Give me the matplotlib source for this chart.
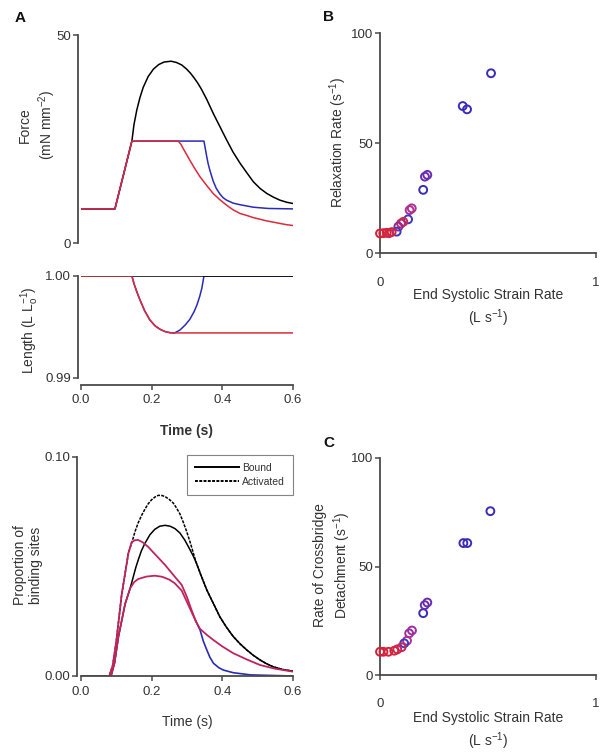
"""
Force, length and binding-site traces (A) with relaxation / detachment
rates against end systolic strain rate (B, C).
"""

import matplotlib
matplotlib.use("Agg")
import matplotlib.pyplot as plt
from matplotlib.lines import Line2D


# -------------------------------------------------
# DATA
# -------------------------------------------------
# A, top: force (mN mm^-2)
force_black_t = [0.0, 0.096, 0.120, 0.144, 0.150, 0.158, 0.167, 0.176, 0.190, 0.205,
                 0.220, 0.235, 0.255, 0.270, 0.285, 0.299, 0.310, 0.320, 0.330, 0.340,
                 0.356, 0.374, 0.393, 0.412, 0.430, 0.450, 0.470, 0.488, 0.507, 0.526,
                 0.545, 0.563, 0.582, 0.600]
force_black_f = [8.2, 8.2, 16.3, 24.5, 28.5, 32.0, 35.0, 37.4, 40.0, 41.8,
                 42.9, 43.5, 43.7, 43.4, 42.8, 41.8, 40.8, 39.7, 38.5, 37.1,
                 34.5, 31.2, 28.0, 24.8, 21.9, 19.2, 16.8, 14.7, 13.1, 11.9,
                 11.0, 10.3, 9.8, 9.5]

force_blue_t = [0.0, 0.096, 0.144, 0.348, 0.352, 0.356, 0.360, 0.365, 0.374, 0.383,
                0.393, 0.402, 0.412, 0.430, 0.450, 0.488, 0.530, 0.600]
force_blue_f = [8.2, 8.2, 24.5, 24.5, 22.6, 20.7, 19.0, 17.4, 14.9, 13.1,
                11.8, 10.9, 10.3, 9.6, 9.2, 8.6, 8.3, 8.2]

force_red_t = [0.0, 0.096, 0.144, 0.275, 0.283, 0.290, 0.300, 0.308, 0.322, 0.337,
               0.356, 0.374, 0.393, 0.412, 0.430, 0.450, 0.470, 0.488, 0.507, 0.526,
               0.545, 0.563, 0.582, 0.600]
force_red_f = [8.2, 8.2, 24.5, 24.5, 23.7, 22.6, 21.1, 19.9, 17.9, 15.9,
               13.8, 11.9, 10.4, 9.1, 8.0, 7.1, 6.6, 6.1, 5.7, 5.3,
               5.0, 4.7, 4.4, 4.2]

# A, middle: length (L Lo^-1)
length_black_t = [0.0, 0.600]
length_black_l = [1.000, 1.000]

length_blue_t = [0.144, 0.150, 0.158, 0.167, 0.180, 0.195, 0.210, 0.224, 0.238, 0.252,
                 0.265, 0.280, 0.295, 0.308, 0.320, 0.328, 0.336, 0.342, 0.348, 0.600]
length_blue_l = [1.000, 0.99925, 0.99845, 0.99765, 0.99660, 0.99569, 0.99510, 0.99477, 0.99455, 0.99444,
                 0.99442, 0.99470, 0.99520, 0.99575, 0.99650, 0.99715, 0.99800, 0.99880, 1.000, 1.000]

length_red_t = [0.0, 0.144, 0.150, 0.158, 0.167, 0.180, 0.195, 0.210, 0.224, 0.238,
                0.252, 0.265, 0.600]
length_red_l = [1.000, 1.000, 0.99925, 0.99845, 0.99765, 0.99660, 0.99569, 0.99510, 0.99477, 0.99455,
                0.99444, 0.99442, 0.99442]

# A, bottom: proportion of binding sites
act_black_t = [0.0, 0.080, 0.090, 0.100, 0.115, 0.134, 0.144, 0.153, 0.162, 0.172,
               0.181, 0.190, 0.200, 0.210, 0.219, 0.230, 0.240, 0.250, 0.261, 0.270,
               0.280, 0.290, 0.299, 0.310, 0.320, 0.327, 0.340, 0.356, 0.375, 0.393,
               0.412, 0.431, 0.450, 0.469, 0.488, 0.507, 0.525, 0.544, 0.570, 0.600]
act_black_p = [0.0, 0.0, 0.005, 0.016, 0.037, 0.056, 0.0610, 0.0660, 0.0700, 0.0735,
               0.0762, 0.0786, 0.0805, 0.0818, 0.0825, 0.0824, 0.0817, 0.0806, 0.0790, 0.0768,
               0.0740, 0.0700, 0.0660, 0.0605, 0.0550, 0.0514, 0.0458, 0.0393, 0.0330, 0.0270,
               0.0222, 0.0180, 0.0147, 0.0119, 0.0094, 0.0073, 0.0056, 0.0042, 0.0030, 0.0022]

bnd_black_t = [0.0, 0.085, 0.095, 0.106, 0.125, 0.139, 0.148, 0.155, 0.162, 0.171,
               0.181, 0.195, 0.209, 0.223, 0.238, 0.252, 0.266, 0.280, 0.294, 0.308,
               0.318, 0.327, 0.340, 0.356, 0.375, 0.393, 0.412, 0.431, 0.450, 0.469,
               0.488, 0.507, 0.525, 0.544, 0.570, 0.600]
bnd_black_p = [0.0, 0.0, 0.006, 0.018, 0.033, 0.0400, 0.0453, 0.0495, 0.0530, 0.0572,
               0.0606, 0.0645, 0.0670, 0.0684, 0.0688, 0.0684, 0.0673, 0.0653, 0.0620, 0.0578,
               0.0547, 0.0514, 0.0458, 0.0393, 0.0330, 0.0270, 0.0222, 0.0180, 0.0147, 0.0119,
               0.0094, 0.0073, 0.0056, 0.0042, 0.0030, 0.0022]

act_red_t = [0.0, 0.080, 0.090, 0.100, 0.115, 0.134, 0.143, 0.152, 0.162, 0.175,
             0.190, 0.210, 0.238, 0.262, 0.285, 0.300, 0.312, 0.325]
act_red_p = [0.0, 0.0, 0.005, 0.016, 0.037, 0.056, 0.0610, 0.0620, 0.0621, 0.0610,
             0.0590, 0.0555, 0.0507, 0.0460, 0.0416, 0.0360, 0.0305, 0.0250]

bnd_red_t = [0.0, 0.085, 0.095, 0.106, 0.125, 0.139, 0.150, 0.162, 0.185, 0.209,
             0.230, 0.250, 0.265, 0.285, 0.305, 0.325, 0.337, 0.356, 0.375, 0.400,
             0.431, 0.470, 0.507, 0.550, 0.600]
bnd_red_p = [0.0, 0.0, 0.006, 0.018, 0.033, 0.0400, 0.0428, 0.0443, 0.0454, 0.0458,
             0.0453, 0.0440, 0.0424, 0.0390, 0.0320, 0.0250, 0.0215, 0.0188, 0.0164, 0.0135,
             0.0104, 0.0075, 0.0050, 0.0033, 0.0020]

bnd_blue_t = [0.325, 0.337, 0.346, 0.356, 0.365, 0.375, 0.390, 0.403, 0.431, 0.480, 0.600]
bnd_blue_p = [0.0250, 0.0210, 0.0160, 0.0119, 0.0085, 0.0058, 0.0038, 0.0027, 0.0015, 0.0005, 0.0]

# B: relaxation rate vs end systolic strain rate
b_strain = [0.514, 0.383, 0.403, 0.208, 0.219, 0.200, 0.147, 0.137, 0.130, 0.108,
            0.097, 0.085, 0.077, 0.054, 0.042, 0.031, 0.015, 0.000]
b_rate = [81.7, 66.8, 65.3, 34.7, 35.5, 28.7, 20.3, 19.5, 15.3, 14.2,
          13.4, 12.0, 9.7, 9.5, 9.0, 9.2, 9.0, 8.9]
b_colors = ["#3a2cb8", "#3a2cb8", "#3a2cb8", "#6a2cb0", "#6a2cb0", "#3a2cb8", "#b03090", "#b03090", "#3a3ac0", "#c82858",
            "#c82858", "#8a2ca0", "#3a3ac0", "#d4243c", "#c82858", "#d4243c", "#d4243c", "#d4243c"]

# C: crossbridge detachment rate vs end systolic strain rate
c_strain = [0.511, 0.386, 0.404, 0.200, 0.207, 0.219, 0.148, 0.135, 0.125, 0.112,
            0.100, 0.080, 0.066, 0.039, 0.016, 0.000]
c_rate = [75.5, 60.8, 60.8, 28.5, 32.2, 33.4, 20.5, 19.2, 15.8, 14.6,
          12.8, 11.8, 11.2, 10.7, 10.7, 10.7]
c_colors = ["#3a2cb8", "#3a2cb8", "#3a2cb8", "#3a2cb8", "#6a2cb0", "#6a2cb0", "#a02ca0", "#a02ca0", "#b03090", "#3a3ac0",
            "#c82858", "#c82858", "#d4243c", "#d4243c", "#d4243c", "#c8243c"]

time_ticks = [0.0, 0.2, 0.4, 0.6]
time_ticklabels = ["0.0", "0.2", "0.4", "0.6"]


# -------------------------------------------------
# STYLE
# -------------------------------------------------
plt.rcParams["font.family"] = ["Liberation Sans", "DejaVu Sans"]
plt.rcParams["mathtext.fontset"] = "custom"
plt.rcParams["mathtext.rm"] = "Liberation Sans"
plt.rcParams["mathtext.it"] = "Liberation Sans"

SPINE = "#4a4a4a"
TEXT = "#333333"
RED = "#dc2a3a"
MAG = "#c0245c"
BLUE = "#2a2ab8"
TICK_FS = 9.5
LABEL_FS = 10
W, H = 609, 755


def rect(left, top, right, bottom):
    """Pixel box -> figure fraction [l, b, w, h]."""
    return [left / W, 1 - bottom / H, (right - left) / W, (bottom - top) / H]


def prism_axes(ax, show_bottom=True):
    ax.spines["top"].set_visible(False)
    ax.spines["right"].set_visible(False)
    ax.spines["bottom"].set_visible(show_bottom)
    for s in ("left", "bottom"):
        ax.spines[s].set_color(SPINE)
        ax.spines[s].set_linewidth(1.3)
    ax.tick_params(colors=SPINE, labelcolor=TEXT, width=1.1, length=3.5, labelsize=TICK_FS, pad=1.5)
    if not show_bottom:
        ax.set_xticks([])


def label(x, y, s, rot=0, **kw):
    fig.text(x / W, 1 - y / H, s, rotation=rot, ha="center", va="center",
             color=TEXT, fontsize=LABEL_FS, linespacing=1.25, **kw)


fig = plt.figure(figsize=(W / 100, H / 100), dpi=100)

# -------------------------------------------------
# A: FORCE
# -------------------------------------------------
ax_f = fig.add_axes(rect(81, 35, 293, 243))
ax_f.plot(force_black_t, force_black_f, color="black", lw=1.1)
ax_f.plot(force_blue_t, force_blue_f, color=BLUE, lw=1.1)
ax_f.plot(force_red_t, force_red_f, color=RED, lw=1.1)
ax_f.set_xlim(0, 0.6)
ax_f.set_ylim(0, 50)
ax_f.set_yticks([0, 50])
prism_axes(ax_f, show_bottom=False)
ax_f.spines["left"].set_position(("outward", 2))
label(38, 125, "Force\n(mN mm$^{-2}$)", rot=90)

# -------------------------------------------------
# A: LENGTH
# -------------------------------------------------
ax_l = fig.add_axes(rect(81, 276, 293, 378))
ax_l.plot(length_blue_t, length_blue_l, color=BLUE, lw=1.1)
ax_l.plot(length_black_t, length_black_l, color="black", lw=1.1)
ax_l.plot(length_red_t, length_red_l, color=RED, lw=1.1)
ax_l.set_xlim(0, 0.6)
ax_l.set_ylim(0.99, 1.00)
ax_l.set_yticks([0.99, 1.00])
ax_l.set_yticklabels(["0.99", "1.00"])
ax_l.set_xticks(time_ticks)
ax_l.set_xticklabels(time_ticklabels)
prism_axes(ax_l)
ax_l.spines["left"].set_position(("outward", 2))
ax_l.spines["bottom"].set_position(("outward", 5))
ax_l.tick_params(axis="x", pad=3)
label(30, 330, "Length (L L$_{o}^{-1}$)", rot=90)
label(187, 431, "Time (s)", fontweight="bold")

# -------------------------------------------------
# A: BINDING SITES
# -------------------------------------------------
ax_b = fig.add_axes(rect(81, 457, 293, 676))
ax_b.plot(act_black_t, act_black_p, color="black", lw=1.1, ls=(0, (2, 0.8)))
ax_b.plot(bnd_black_t, bnd_black_p, color="black", lw=1.1)
ax_b.plot(bnd_blue_t, bnd_blue_p, color=BLUE, lw=1.2)
ax_b.plot(act_red_t, act_red_p, color=MAG, lw=1.3)
ax_b.plot(bnd_red_t, bnd_red_p, color=MAG, lw=1.3)
ax_b.set_xlim(0, 0.6)
ax_b.set_ylim(0, 0.1)
ax_b.set_yticks([0.0, 0.1])
ax_b.set_yticklabels(["0.00", "0.10"])
ax_b.set_xticks(time_ticks)
ax_b.set_xticklabels(time_ticklabels)
prism_axes(ax_b)
ax_b.spines["left"].set_position(("outward", 3))
ax_b.tick_params(axis="x", pad=4)
label(28, 565, "Proportion of\nbinding sites", rot=90)
label(187, 722, "Time (s)")

handles = [Line2D([], [], color="black", lw=1.4),
           Line2D([], [], color="black", lw=1.4, ls=(0, (1.5, 0.7)))]
leg = ax_b.legend(handles, ["Bound", "Activated"], loc="upper right", bbox_to_anchor=(1.0, 1.01),
                  fontsize=7.5, frameon=True, fancybox=False, borderaxespad=0,
                  handlelength=4.2, handletextpad=0.3, borderpad=0.8, labelspacing=0.35)
leg.get_frame().set_edgecolor("#666666")
leg.get_frame().set_linewidth(0.8)
for t in leg.get_texts():
    t.set_color(TEXT)

# -------------------------------------------------
# B / C: SCATTER PANELS
# -------------------------------------------------
def scatter_panel(box, xs, ys, colors, tick_gap):
    ax = fig.add_axes(rect(*box))
    ax.scatter(xs, ys, s=32, facecolors="none", edgecolors=colors, linewidths=1.4,
               clip_on=False, zorder=3)
    ax.set_xlim(0, 1)
    ax.set_ylim(0, 100)
    ax.set_xticks([0, 1])
    ax.set_yticks([0, 50, 100])
    prism_axes(ax)
    ax.tick_params(axis="x", pad=tick_gap)
    return ax


ax_B = scatter_panel((380, 33, 596, 253), b_strain, b_rate, b_colors, 14)
label(338, 142, "Relaxation Rate (s$^{-1}$)", rot=90)
label(488, 295, "End Systolic Strain Rate")
label(488, 318, "(L s$^{-1}$)")

ax_C = scatter_panel((380, 458, 596, 675), c_strain, c_rate, c_colors, 13)
label(333, 565, "Rate of Crossbridge\nDetachment (s$^{-1}$)", rot=90)
label(488, 718, "End Systolic Strain Rate")
label(488, 741, "(L s$^{-1}$)")

# -------------------------------------------------
# PANEL LETTERS
# -------------------------------------------------
for letter, x, y in [("A", 20, 18), ("B", 328, 17), ("C", 329, 443)]:
    fig.text(x / W, 1 - y / H, letter, ha="center", va="center", fontsize=11,
             fontweight="bold", color="#111111")

fig.savefig("out.png", dpi=100)
